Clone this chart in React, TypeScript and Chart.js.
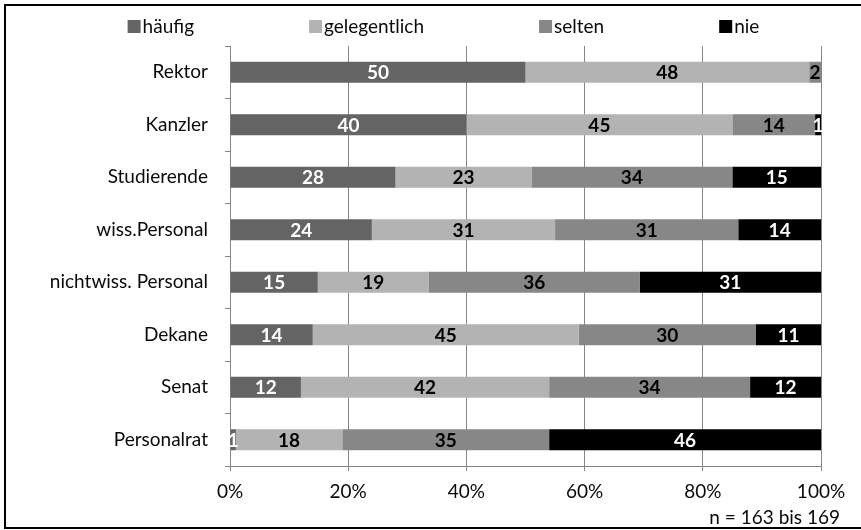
import { useEffect, useRef } from "react";
import { Chart, registerables } from "chart.js";

Chart.register(...registerables);

// Respondent groups (top to bottom) and answer shares in percent
const categories = [
  "Rektor",
  "Kanzler",
  "Studierende",
  "wiss.Personal",
  "nichtwiss. Personal",
  "Dekane",
  "Senat",
  "Personalrat",
];
const haeufig = [50, 40, 28, 24, 15, 14, 12, 1];
const gelegentlich = [48, 45, 23, 31, 19, 45, 42, 18];
const selten = [2, 14, 34, 31, 36, 30, 34, 35];
const nie = [0, 1, 15, 14, 31, 11, 12, 46];
const seriesNames = ["häufig", "gelegentlich", "selten", "nie"];
const seriesColors = ["#646464", "#b3b3b3", "#878787", "#000000"];
const labelColors = ["#ffffff", "#000000", "#000000", "#ffffff"];
const xTickValues = [0, 20, 40, 60, 80, 100];
const footnote = "n = 163 bis 169";

const FONT = "Lato, 'Open Sans', sans-serif";
const FONT_SIZE = 19;
const TEXT = "#0a0a0a";
const AXIS_GREY = "#868686";

const seriesValues = [haeufig, gelegentlich, selten, nie];
// each row is drawn as a share of its own total so every bar fills 0–100 %
const rowTotals = categories.map((_, i) =>
  seriesValues.reduce((s, arr) => s + arr[i], 0)
);

const frameAndLegend = {
  id: "frameAndLegend",
  afterDraw(chart: Chart) {
    const ctx = chart.ctx;
    ctx.save();
    // outer frame
    ctx.strokeStyle = "#000";
    ctx.lineWidth = 2;
    ctx.strokeRect(5, 5, 880, 523);

    // legend row
    ctx.font = `${FONT_SIZE}px ${FONT}`;
    ctx.textBaseline = "middle";
    ctx.textAlign = "left";
    const box = 13;
    const gapText = 2;
    const gapItems = 115;
    const widths = seriesNames.map((n) => box + gapText + ctx.measureText(n).width);
    const total = widths.reduce((a, b) => a + b, 0) + gapItems * (widths.length - 1);
    let x = 443.5 - total / 2;
    const y = 26;
    seriesNames.forEach((n, i) => {
      ctx.fillStyle = seriesColors[i];
      ctx.fillRect(x, y - 6, box, box);
      ctx.fillStyle = TEXT;
      ctx.fillText(n, x + box + gapText, y + 1);
      x += widths[i] + gapItems;
    });

    // sample size note
    ctx.textAlign = "right";
    ctx.fillText(footnote, 840, 518);
    ctx.restore();
  },
};

const valueLabels = {
  id: "valueLabels",
  afterDatasetsDraw(chart: Chart) {
    const ctx = chart.ctx;
    ctx.save();
    ctx.font = `bold ${FONT_SIZE}px ${FONT}`;
    ctx.textAlign = "center";
    ctx.textBaseline = "middle";
    chart.data.datasets.forEach((_, di) => {
      const meta = chart.getDatasetMeta(di);
      meta.data.forEach((el: any, i: number) => {
        const v = seriesValues[di][i];
        if (!v) return;
        const cx = (el.x + el.base) / 2;
        ctx.fillStyle = labelColors[di];
        ctx.fillText(String(v), cx, el.y + 1);
      });
    });
    ctx.restore();
  },
};

export default function App() {
  const canvasRef = useRef<HTMLCanvasElement | null>(null);

  useEffect(() => {
    if (!canvasRef.current) return;
    const chart = new Chart(canvasRef.current, {
      type: "bar",
      data: {
        labels: categories,
        datasets: seriesNames.map((name, di) => ({
          label: name,
          data: seriesValues[di].map((v, i) => (v / rowTotals[i]) * 100),
          backgroundColor: seriesColors[di],
          borderWidth: 0,
          barPercentage: 0.4,
          categoryPercentage: 1,
        })),
      },
      options: {
        indexAxis: "y",
        animation: false,
        responsive: false,
        maintainAspectRatio: false,
        layout: { padding: { left: 0, right: 40, top: 46, bottom: 0 } },
        plugins: {
          legend: { display: false },
          tooltip: { enabled: false },
          title: { display: false },
        },
        scales: {
          x: {
            stacked: true,
            min: 0,
            max: 100,
            afterBuildTicks: (scale: any) => {
              scale.ticks = xTickValues.map((v) => ({ value: v }));
            },
            afterFit: (scale: any) => {
              scale.height = 64;
            },
            grid: {
              color: AXIS_GREY,
              lineWidth: 1,
              drawTicks: true,
              tickLength: 5,
            },
            border: { display: true, color: AXIS_GREY, width: 1 },
            ticks: {
              padding: 9,
              color: TEXT,
              font: { family: FONT, size: FONT_SIZE },
              maxRotation: 0,
              callback: (v: any) => `${v}%`,
            },
          },
          y: {
            stacked: true,
            afterFit: (scale: any) => {
              scale.width = 230;
            },
            grid: {
              offset: true,
              drawOnChartArea: false,
              drawTicks: true,
              tickLength: 5,
              color: AXIS_GREY,
            },
            border: { display: true, color: AXIS_GREY, width: 1 },
            ticks: {
              padding: 17,
              color: TEXT,
              font: { family: FONT, size: FONT_SIZE },
            },
          },
        },
      },
      plugins: [valueLabels, frameAndLegend],
    });
    return () => chart.destroy();
  }, []);

  return (
    <div style={{ position: "fixed", left: 0, top: 0, width: 861, height: 530, background: "#fff" }}>
      <canvas ref={canvasRef} width={861} height={530} style={{ display: "block" }} />
    </div>
  );
}
